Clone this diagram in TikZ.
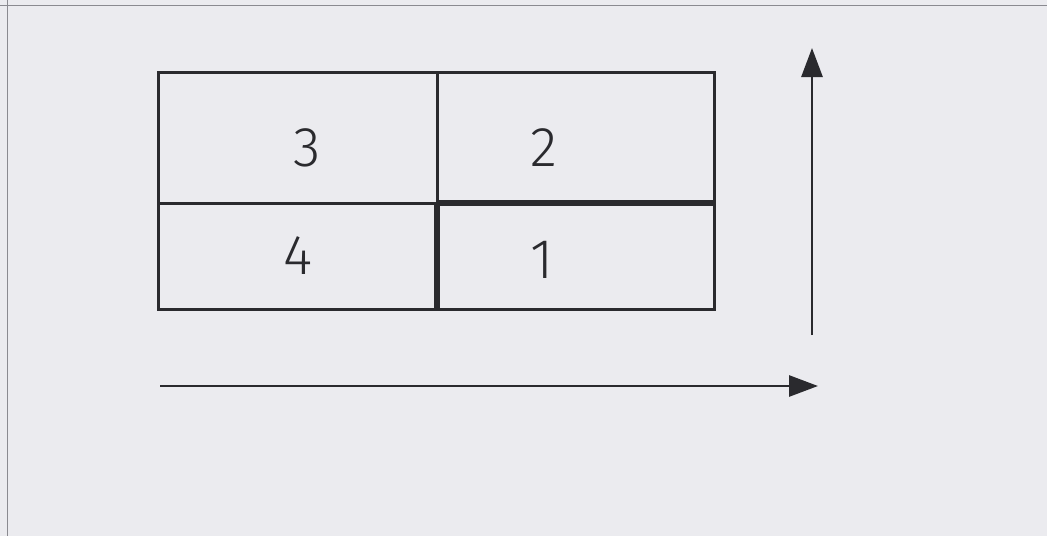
\documentclass[tikz,border=0pt]{standalone}
\usepackage{fontspec}
\setmainfont{Fira Sans Light}
\usetikzlibrary{arrows.meta}
\definecolor{paper}{HTML}{EBEBEF}
\definecolor{ink}{HTML}{2A2A2E}
\definecolor{edge}{HTML}{8A8A90}
\tikzset{
  gridline/.style={draw=ink, line width=3pt},
  thickline/.style={draw=ink, line width=5.2pt},
  axis/.style={draw=ink, line width=2.8pt, -{Triangle[length=29pt,width=21pt]}},
  digit/.style={text=ink, font=\fontsize{56}{56}\selectfont, inner sep=0pt},
}
\begin{document}
\begin{tikzpicture}[x=1pt,y=-1pt]
  \fill[paper] (0,0) rectangle (1047,536);
  \useasboundingbox (0,0) rectangle (1047,536);
  \draw[edge, line width=1pt] (0,5) -- (1047,5);
  \draw[edge, line width=1pt] (7,0) -- (7,536);
  % grid corners
  \coordinate (tl) at (158,72);
  \coordinate (tm) at (437,72);
  \coordinate (tr) at (714,72);
  \coordinate (ml) at (158,203);
  \coordinate (mm) at (437,203);
  \coordinate (mr) at (714,203);
  \coordinate (bl) at (158,309);
  \coordinate (bm) at (437,309);
  \coordinate (br) at (714,309);
  \draw[gridline] (tl) -- (tr) -- (br) -- (bl) -- cycle;
  \draw[gridline] (tm) -- (mm);
  \draw[gridline] (ml) -- (mm);
  \draw[thickline] (mm) -- (mr);
  \draw[thickline] (mm) -- (bm);
  % digits
  \node[digit] (n3) at (307,148) {3};
  \node[digit] (n2) at (544,148) {2};
  \node[digit] (n4) at (298,256) {4};
  \node[digit] (n1) at (542,260) {1};
  % axes
  \coordinate (vs) at (812,335);
  \coordinate (ve) at (812,48);
  \coordinate (hs) at (160,386);
  \coordinate (he) at (818,386);
  \draw[axis] (vs) -- (ve);
  \draw[axis] (hs) -- (he);
\end{tikzpicture}
\end{document}
